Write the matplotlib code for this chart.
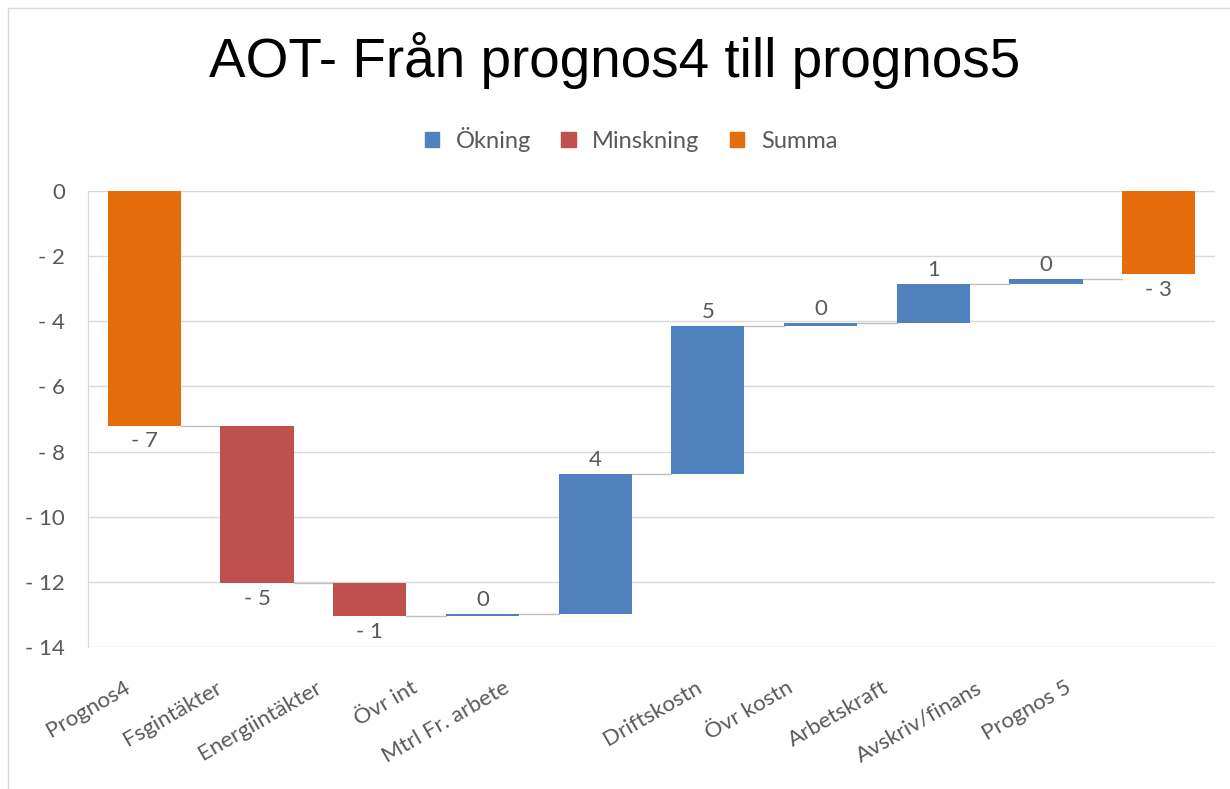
import matplotlib
matplotlib.use("Agg")
import matplotlib.pyplot as plt
import matplotlib.transforms as mtransforms
from matplotlib.patches import Patch, Rectangle
from matplotlib.ticker import FuncFormatter

categories = ["Prognos4", "Fsgintäkter", "Energiintäkter", "Övr int", "Mtrl Fr. arbete",
              "Driftskostn", "Övr kostn", "Arbetskraft", "Avskriv/finans", "Prognos 5"]
start_value = -7.2
changes = [-4.85, -1.0, 0.05, 4.3, 4.55, 0.1, 1.2, 0.15]
end_value = -2.55

BLUE = "#4F81BD"
RED = "#C0504D"
ORANGE = "#E46C0A"
GRAY_TXT = "#595959"
GRID = "#D9D9D9"

# how far (px) each category label's end sits left of its bar centre in the original
label_shift_px = [-21, -42, -55, -72, -92, -13, -34, -52, -71, -94]


def fmt(v):
    r = int(round(v + (0.0001 if v > 0 else -0.0001)))
    return f"- {abs(r)}" if r < 0 else f"{r}"


fig = plt.figure(figsize=(12.30, 7.89), dpi=100)
ax = fig.add_axes([88 / 1230, 1 - 647 / 789, (1215 - 88) / 1230, (647 - 191) / 789])

# waterfall segments
bottoms, heights, colors, values = [0], [start_value], [ORANGE], [start_value]
level = start_value
for c in changes:
    bottoms.append(level)
    heights.append(c)
    colors.append(BLUE if c >= 0 else RED)
    values.append(c)
    level += c
bottoms.append(0)
heights.append(end_value)
colors.append(ORANGE)
values.append(end_value)

x = list(range(len(categories)))
width = 0.65
min_h = 0.07
for i in x:
    h = heights[i]
    b = bottoms[i]
    if abs(h) < min_h:
        b = b + h / 2 - min_h / 2
        h = min_h
    ax.bar(i, h, bottom=b, width=width, color=colors[i], zorder=3)

# connector lines
for i in range(len(x) - 1):
    top = bottoms[i] + heights[i]
    ax.plot([i + width / 2, i + 1 - width / 2], [top, top], color="#BFBFBF", lw=1, zorder=2)

# data labels
for i in x:
    b = bottoms[i]
    t = b + heights[i]
    v = values[i]
    if v < 0 and abs(v) >= 0.5:
        ax.annotate(fmt(v), (i, min(b, t)), xytext=(0, -4), textcoords="offset points",
                    ha="center", va="top", fontsize=16, color=GRAY_TXT, family="Lato")
    else:
        ax.annotate(fmt(v), (i, max(b, t)), xytext=(0, 3), textcoords="offset points",
                    ha="center", va="bottom", fontsize=16, color=GRAY_TXT, family="Lato")

ax.set_xlim(-0.5, len(x) - 0.5)
ax.set_ylim(-14, 0)
ax.set_yticks(range(-14, 1, 2))
ax.yaxis.set_major_formatter(FuncFormatter(lambda v, p: fmt(v)))
ax.grid(axis="y", color=GRID, lw=1, zorder=0)
ax.tick_params(axis="y", length=0, labelsize=16, labelcolor=GRAY_TXT, pad=16.5)
for lab in ax.get_yticklabels():
    lab.set_family("Lato")
ax.set_xticks(x)
ax.set_xticklabels(categories, rotation=30, ha="right", va="top", rotation_mode="anchor",
                   fontsize=16, color=GRAY_TXT, family="Lato")
ax.tick_params(axis="x", length=0, pad=22)
for lab, dx in zip(ax.get_xticklabels(), label_shift_px):
    lab.set_transform(lab.get_transform() + mtransforms.ScaledTranslation(dx / 100, 0, fig.dpi_scale_trans))
for s in ["top", "right", "bottom"]:
    ax.spines[s].set_visible(False)
ax.spines["left"].set_color(GRID)

fig.text(0.5, 1 - 77 / 789, "AOT- Från prognos4 till prognos5", ha="center", va="baseline",
         fontsize=39.5, family="Liberation Sans", color="black")

handles = [Patch(color=BLUE, label="Ökning"), Patch(color=RED, label="Minskning"),
           Patch(color=ORANGE, label="Summa")]
leg = fig.legend(handles=handles, loc="center", bbox_to_anchor=(631 / 1230, 1 - 139 / 789), ncol=3,
                 frameon=False, prop={"family": "Lato", "size": 17}, handlelength=0.6,
                 handleheight=0.6, columnspacing=1.3, handletextpad=0.7)
for t in leg.get_texts():
    t.set_color(GRAY_TXT)

fig.patches.append(Rectangle((8 / 1230, -0.01), 1.0, 1 - 8 / 789 + 0.01, transform=fig.transFigure,
                             fill=False, edgecolor="#D9D9D9", lw=1))

fig.savefig("out.png", dpi=100)
